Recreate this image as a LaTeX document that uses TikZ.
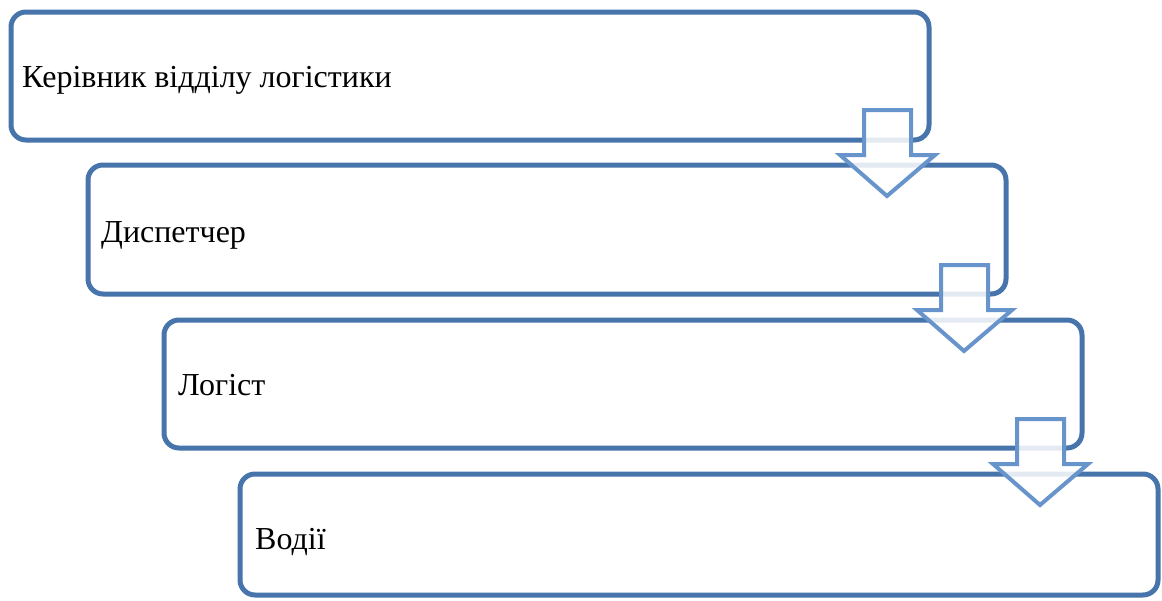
\documentclass[tikz,border=0pt]{standalone}
\usepackage{fontspec}
\setmainfont{Liberation Serif}
\definecolor{boxline}{RGB}{72,116,172}
\definecolor{arrline}{RGB}{104,148,204}
\begin{document}
\begin{tikzpicture}[x=1pt,y=-1pt,
  box/.style={draw=boxline, line width=5pt, rounded corners=15pt, fill=white, anchor=north west, inner sep=0pt, outer sep=0pt},
  lbl/.style={anchor=base west, inner sep=0pt, font=\fontsize{32}{38}\selectfont},
  blockarrow/.style={draw=arrline, line width=4pt, fill=white, fill opacity=0.85, line join=miter}]
\useasboundingbox (0,0) rectangle (1162,600);
% boxes
\node[box, minimum width=918pt, minimum height=128pt] (b1) at (11,12) {};
\node[lbl] (t1) at (22,87) {Керівник відділу логістики};
\node[box, minimum width=918pt, minimum height=129pt] (b2) at (88,165) {};
\node[lbl] (t2) at (101,242) {Диспетчер};
\node[box, minimum width=918pt, minimum height=128pt] (b3) at (164,320) {};
\node[lbl] (t3) at (178,395) {Логіст};
\node[box, minimum width=918pt, minimum height=121pt] (b4) at (240,474) {};
\node[lbl] (t4) at (255,549) {Водії};
% block arrows
\foreach \dx/\dy in {0/0, 77/155, 153/309}{
  \draw[blockarrow, shift={(\dx,\dy)}] (864,110) -- (911,110) -- (911,155) -- (935,155) -- (887,196) -- (840,155) -- (864,155) -- cycle;
}
\end{tikzpicture}
\end{document}
